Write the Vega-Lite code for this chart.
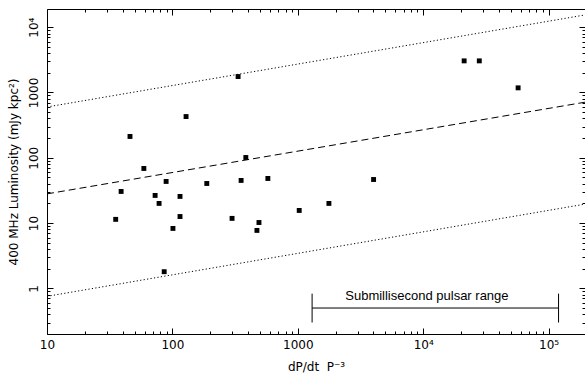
{
  "$schema": "https://vega.github.io/schema/vega-lite/v6.json",
  "width": 538,
  "height": 325,
  "autosize": {"type": "none"},
  "padding": {"left": 47, "top": 9, "right": 0, "bottom": 46},
  "background": "white",
  "config": {
    "view": {"stroke": null},
    "axis": {
      "grid": false,
      "domainColor": "black",
      "domainWidth": 1,
      "tickColor": "black",
      "tickWidth": 1,
      "labelFont": "DejaVu Sans",
      "labelFontSize": 12,
      "labelColor": "black",
      "labelOverlap": false,
      "labelFlush": false,
      "labelBound": false,
      "titleFont": "DejaVu Sans",
      "titleFontSize": 12,
      "titleFontWeight": "normal",
      "titleColor": "black"
    }
  },
  "datasets": {
    "pulsars": [
      {"x": 334, "y": 1754}, {"x": 128.5, "y": 428}, {"x": 45.9, "y": 212}, {"x": 385, "y": 101},
      {"x": 59.2, "y": 68.6}, {"x": 39, "y": 30.5}, {"x": 89.1, "y": 43.4}, {"x": 188, "y": 40.4},
      {"x": 353, "y": 45}, {"x": 577, "y": 48.2}, {"x": 72.8, "y": 26.5}, {"x": 115, "y": 25.6},
      {"x": 78.3, "y": 20}, {"x": 1770, "y": 20}, {"x": 1026, "y": 15.6}, {"x": 35.3, "y": 11.4},
      {"x": 115, "y": 12.6}, {"x": 299, "y": 11.8}, {"x": 490, "y": 10.2}, {"x": 101, "y": 8.28},
      {"x": 472, "y": 7.72}, {"x": 4020, "y": 46.5}, {"x": 21200, "y": 3050}, {"x": 28000, "y": 3050},
      {"x": 57100, "y": 1178}, {"x": 86, "y": 1.8}
    ],
    "dashed": [{"x": 10, "y": 28}, {"x": 195000, "y": 710}],
    "dotted": [
      {"series": "upper", "x": 10, "y": 600}, {"series": "upper", "x": 195000, "y": 15400},
      {"series": "lower", "x": 10, "y": 0.755}, {"series": "lower", "x": 195000, "y": 19.5}
    ],
    "range": [{"x": 1300, "x2": 120000, "y": 0.5}],
    "rangeEnds": [{"x": 1300, "y": 0.3, "y2": 0.83}, {"x": 120000, "y": 0.3, "y2": 0.83}],
    "rangeLabel": [{"x": 10700, "y": 0.77, "label": "Submillisecond pulsar range"}]
  },
  "layer": [
    {
      "encoding": {
        "x": {
          "field": "x", "type": "quantitative",
          "scale": {"type": "log", "domain": [10, 195000], "nice": false, "zero": false},
          "axis": {
            "orient": "bottom",
            "title": "dP/dt\u00a0\u00a0P⁻³",
            "titlePadding": 8,
            "values": [10,20,30,40,50,60,70,80,90,100,200,300,400,500,600,700,800,900,1000,2000,3000,4000,5000,6000,7000,8000,9000,10000,20000,30000,40000,50000,60000,70000,80000,90000,100000],
            "labelExpr": "datum.value==10?'10':datum.value==100?'100':datum.value==1000?'1000':datum.value==10000?'10⁴':datum.value==100000?'10⁵':''",
            "tickSize": {"condition": {"test": "abs(log(datum.value)/LN10 - round(log(datum.value)/LN10)) < 0.001", "value": -6}, "value": -3},
            "labelPadding": 11
          }
        },
        "y": {
          "field": "y", "type": "quantitative",
          "scale": {"type": "log", "domain": [0.2, 19000], "nice": false, "zero": false},
          "axis": {
            "orient": "left",
            "title": "400 MHz Luminosity (mJy kpc²)",
            "titlePadding": 4,
            "values": [0.2,0.3,0.4,0.5,0.6,0.7,0.8,0.9,1,2,3,4,5,6,7,8,9,10,20,30,40,50,60,70,80,90,100,200,300,400,500,600,700,800,900,1000,2000,3000,4000,5000,6000,7000,8000,9000,10000],
            "labelExpr": "datum.value==1?'1':datum.value==10?'10':datum.value==100?'100':datum.value==1000?'1000':datum.value==10000?'10⁴':''",
            "labelAngle": -90,
            "labelAlign": "center",
            "labelBaseline": "bottom",
            "tickSize": {"condition": {"test": "abs(log(datum.value)/LN10 - round(log(datum.value)/LN10)) < 0.001", "value": -6}, "value": -3},
            "labelPadding": 13
          }
        }
      },
      "layer": [
        {
          "data": {"name": "dashed"},
          "mark": {"type": "line", "color": "black", "strokeWidth": 1, "strokeDash": [7, 4]},
          "encoding": {}
        },
        {
          "data": {"name": "dotted"},
          "mark": {"type": "line", "color": "black", "strokeWidth": 1, "strokeDash": [1.2, 2.3]},
          "encoding": {"detail": {"field": "series"}}
        },
        {
          "data": {"name": "pulsars"},
          "mark": {"type": "square", "color": "black", "filled": true, "opacity": 1, "size": 24},
          "encoding": {}
        },
        {
          "data": {"name": "range"},
          "mark": {"type": "rule", "color": "black", "strokeWidth": 1},
          "encoding": {"x2": {"field": "x2"}}
        },
        {
          "data": {"name": "rangeEnds"},
          "mark": {"type": "rule", "color": "black", "strokeWidth": 1},
          "encoding": {"y2": {"field": "y2"}}
        },
        {
          "data": {"name": "rangeLabel"},
          "mark": {"type": "text", "font": "Liberation Sans", "fontSize": 13, "color": "black", "align": "center", "baseline": "middle"},
          "encoding": {"text": {"field": "label"}}
        }
      ]
    },
    {
      "data": {"name": "pulsars"},
      "mark": {"type": "point", "opacity": 0},
      "encoding": {
        "x": {
          "field": "x", "type": "quantitative",
          "scale": {"type": "log", "domain": [10, 195000], "nice": false, "zero": false},
          "axis": {
            "orient": "top", "title": null, "labels": false,
            "values": [10,20,30,40,50,60,70,80,90,100,200,300,400,500,600,700,800,900,1000,2000,3000,4000,5000,6000,7000,8000,9000,10000,20000,30000,40000,50000,60000,70000,80000,90000,100000],
            "tickSize": {"condition": {"test": "abs(log(datum.value)/LN10 - round(log(datum.value)/LN10)) < 0.001", "value": -6}, "value": -3}
          }
        },
        "y": {
          "field": "y", "type": "quantitative",
          "scale": {"type": "log", "domain": [0.2, 19000], "nice": false, "zero": false},
          "axis": {
            "orient": "right", "title": null, "labels": false,
            "values": [0.2,0.3,0.4,0.5,0.6,0.7,0.8,0.9,1,2,3,4,5,6,7,8,9,10,20,30,40,50,60,70,80,90,100,200,300,400,500,600,700,800,900,1000,2000,3000,4000,5000,6000,7000,8000,9000,10000],
            "tickSize": {"condition": {"test": "abs(log(datum.value)/LN10 - round(log(datum.value)/LN10)) < 0.001", "value": -6}, "value": -3}
          }
        }
      }
    }
  ],
  "resolve": {"scale": {"x": "independent", "y": "independent"}}
}
